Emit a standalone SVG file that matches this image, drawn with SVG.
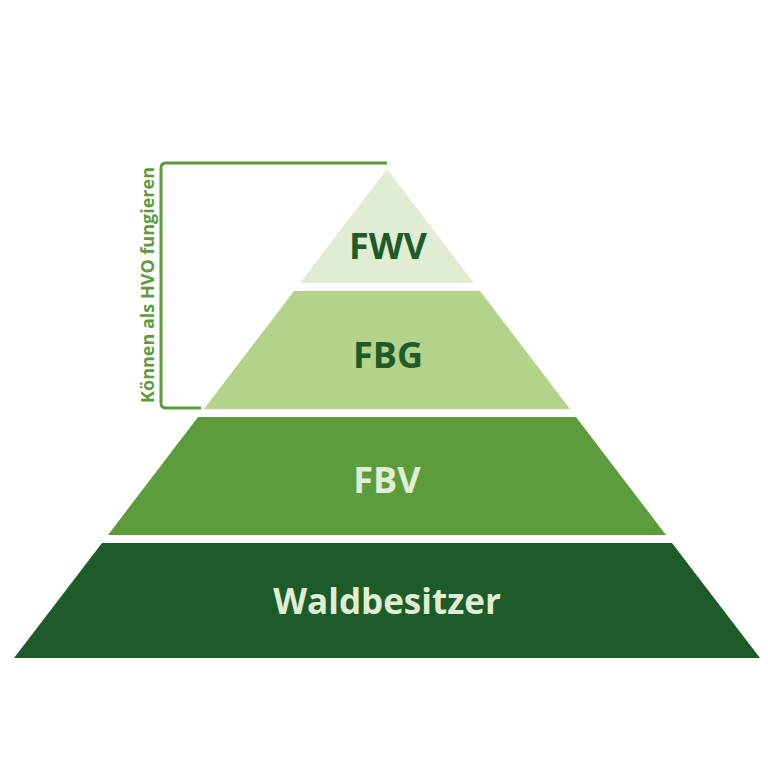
<svg xmlns="http://www.w3.org/2000/svg" width="768" height="768" viewBox="0 0 768 768">
<style>
.lbl{font-family:"Open Sans","Liberation Sans",sans-serif;font-weight:700;text-anchor:middle}
.dark{fill:#1e5b2a}
.light{fill:#e0eed3}
.side{font-family:"Open Sans","Liberation Sans",sans-serif;font-weight:700;font-size:18px;fill:#5c9c3d;text-anchor:middle}
.br{fill:none;stroke:#5c9c3d;stroke-width:3;stroke-linejoin:round}
</style>
<rect width="768" height="768" fill="#ffffff"/>
<g id="fwv">
<polygon points="387,169 474,283 300,283" fill="#e0edd3"/>
<text class="lbl dark" x="388" y="259" font-size="36">FWV</text>
</g>
<g id="fbg">
<polygon points="294,291 480,291 570,409 204,409" fill="#b3d38a"/>
<text class="lbl dark" x="388" y="368" font-size="36">FBG</text>
</g>
<g id="fbv">
<polygon points="198,417 576,417 666,535 108,535" fill="#5c9c3d"/>
<text class="lbl light" x="387" y="493" font-size="36">FBV</text>
</g>
<g id="waldbesitzer">
<polygon points="102,543 672,543 760,658 14,658" fill="#1e5b2a"/>
<text class="lbl light" x="387" y="614" font-size="35">Waldbesitzer</text>
</g>
<g id="connectors">
<path class="br" d="M387,163 H166 Q161,163 161,168 V403 Q161,408 166,408 H201"/>
<text class="side" transform="translate(154,285) rotate(-90)">Können als HVO fungieren</text>
</g>
</svg>
